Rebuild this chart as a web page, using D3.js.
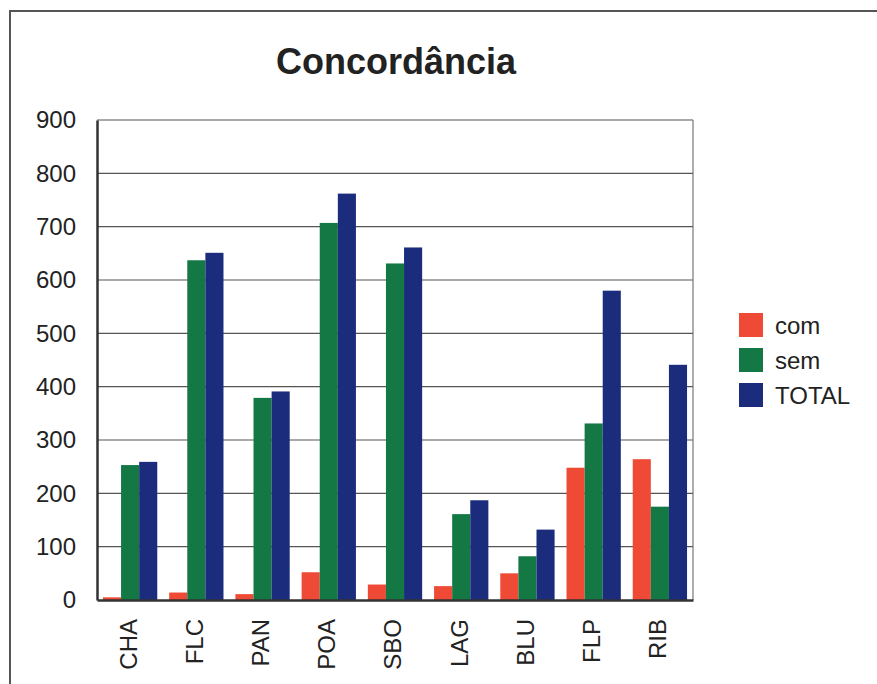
<!DOCTYPE html>
<html><head><meta charset="utf-8">
<script src="https://cdn.jsdelivr.net/npm/d3@7"></script>
<style>body{margin:0;background:#fff}svg{display:block;font-family:"Liberation Sans",Arial,sans-serif}</style>
</head><body>
<script>
const categories = ["CHA","FLC","PAN","POA","SBO","LAG","BLU","FLP","RIB"];
const seriesNames = ["com","sem","TOTAL"];
const com   = [5, 14, 11, 52, 29, 26, 50, 248, 264];
const sem   = [253, 637, 379, 707, 631, 161, 82, 331, 175];
const total = [259, 651, 391, 762, 661, 187, 132, 580, 441];
const yTicks = [0,100,200,300,400,500,600,700,800,900];
const colors = ["#ee4a36", "#137843", "#1b2c7c"];
const title = "Concordância";

const W = 877, H = 684;
const svg = d3.select("body").append("svg").attr("width", W).attr("height", H);
const m = {left: 97, right: 693, top: 120, bottom: 600};

// outer frame
svg.append("path").attr("d", `M10,${H+5} V11 H${W+5}`).attr("fill","none").attr("stroke","#555").attr("stroke-width",2);

const x0 = d3.scaleBand().domain(categories).range([m.left, m.right]).paddingInner(0.18).paddingOuter(0.09);
const x1 = d3.scaleBand().domain(seriesNames).range([0, x0.bandwidth()]);
const y = d3.scaleLinear().domain([0, 900]).range([m.bottom, m.top]);

// gridlines
svg.append("g").selectAll("line").data(yTicks.filter(d=>d>0)).join("line")
  .attr("x1", m.left).attr("x2", m.right).attr("y1", d=>y(d)).attr("y2", d=>y(d))
  .attr("stroke", "#555").attr("stroke-width", 1.2);
// right border
svg.append("line").attr("x1", m.right).attr("x2", m.right).attr("y1", m.top).attr("y2", m.bottom)
  .attr("stroke","#777").attr("stroke-width",1.2);

const data = categories.map((c,i)=>({cat:c, vals:[com[i], sem[i], total[i]]}));
const g = svg.append("g").selectAll("g").data(data).join("g")
  .attr("transform", d=>`translate(${x0(d.cat)},0)`);
g.selectAll("rect").data(d=>d.vals.map((v,j)=>({name:seriesNames[j], v, j}))).join("rect")
  .attr("x", d=>x1(d.name)).attr("width", x1.bandwidth())
  .attr("y", d=>y(d.v)).attr("height", d=>y(0)-y(d.v))
  .attr("fill", d=>colors[d.j]);

// y axis
const yAxis = d3.axisLeft(y).tickValues(yTicks).tickSize(0).tickPadding(21);
const ya = svg.append("g").attr("transform", `translate(${m.left},0)`).call(yAxis);
ya.select(".domain").attr("stroke","#333").attr("stroke-width",2.5);
ya.selectAll("text").attr("font-size", 24).attr("fill","#222").attr("font-family","Liberation Sans, Arial, sans-serif");

// x axis
const xAxis = d3.axisBottom(x0).tickSize(0).tickPadding(0);
const xa = svg.append("g").attr("transform", `translate(0,${m.bottom})`).call(xAxis);
xa.select(".domain").attr("stroke","#333").attr("stroke-width",2.5);
xa.selectAll("text").attr("font-size", 24).attr("fill","#222").attr("font-family","Liberation Sans, Arial, sans-serif")
  .attr("transform","rotate(-90)").attr("text-anchor","end").attr("dy","0.35em").attr("x",-19).attr("y",-2);

// title
svg.append("text").attr("x", 396).attr("y", 74).attr("text-anchor","middle")
  .attr("font-size", 36).attr("font-weight","bold").attr("fill","#222").text(title);

// legend
const lg = svg.append("g").selectAll("g").data(seriesNames).join("g")
  .attr("transform", (d,i)=>`translate(739,${313 + i*35})`);
lg.append("rect").attr("width", 24).attr("height", 24).attr("fill", (d,i)=>colors[i]);
lg.append("text").attr("x", 36).attr("y", 13).attr("dy","0.35em").attr("font-size", 24).attr("fill","#222").text(d=>d);
</script>
</body></html>
